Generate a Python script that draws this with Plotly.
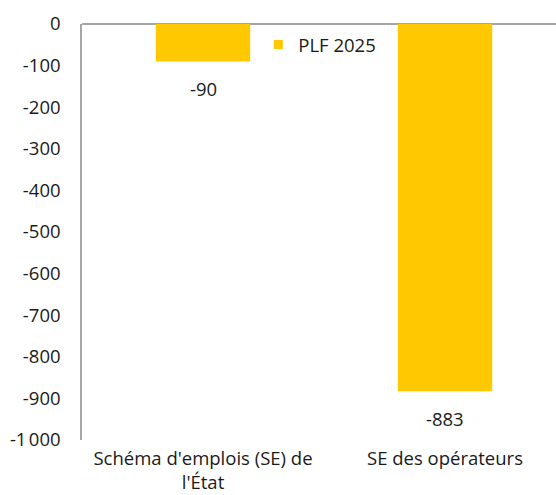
import plotly.graph_objects as go

# Chart data
categories = ["Schéma d'emplois (SE) de<br>l'État", "SE des opérateurs"]
values = [-90, -883]
series_name = "PLF 2025"
tick_values = [0, -100, -200, -300, -400, -500, -600, -700, -800, -900, -1000]
tick_labels = ["0", "-100", "-200", "-300", "-400", "-500", "-600", "-700", "-800", "-900", "-1\u202f000"]

BAR_COLOR = "#FFC800"
AXIS_COLOR = "#A6A6A6"
TEXT_COLOR = "#1a1a1a"
FONT = "'Open Sans', sans-serif"
SIZE = 18.5

fig = go.Figure()
fig.add_trace(go.Bar(
    x=categories,
    y=values,
    name=series_name,
    legendgroup="plf",
    marker=dict(color=BAR_COLOR, line=dict(width=0)),
    width=0.39,
    showlegend=False,
))
# Legend entry with a small square swatch
fig.add_trace(go.Scatter(
    x=[None], y=[None], mode="markers", name=series_name,
    legendgroup="plf",
    marker=dict(symbol="square", size=9, color=BAR_COLOR),
    showlegend=True,
))

# Value labels under each bar end
for cat, val in zip(categories, values):
    fig.add_annotation(
        x=cat, y=val, text=str(val), showarrow=False,
        yshift=-27, font=dict(family=FONT, size=SIZE, color=TEXT_COLOR),
    )

fig.update_layout(
    width=556, height=495,
    margin=dict(l=82, r=0, t=24, b=55),
    paper_bgcolor="white", plot_bgcolor="white",
    font=dict(family=FONT, size=SIZE, color=TEXT_COLOR),
    showlegend=True,
    legend=dict(
        x=0.372, y=0.995, xanchor="left", yanchor="top",
        bgcolor="rgba(0,0,0,0)", font=dict(size=SIZE),
        itemwidth=30,
    ),
    bargap=0.6,
)
fig.update_xaxes(
    range=[-0.5, 1.4587],
    showgrid=False, showline=False, ticks="",
    tickfont=dict(size=SIZE),
    ticklabelstandoff=5,
    automargin=False,
)
fig.update_yaxes(
    range=[-1000, 0],
    tickvals=tick_values, ticktext=tick_labels,
    showgrid=False,
    showline=True, linecolor=AXIS_COLOR, linewidth=1.5,
    zeroline=True, zerolinecolor=AXIS_COLOR, zerolinewidth=1.5,
    ticks="", ticklen=0,
    tickfont=dict(size=SIZE),
    ticklabelstandoff=16,
    automargin=False,
)

fig.write_html("out.html")
